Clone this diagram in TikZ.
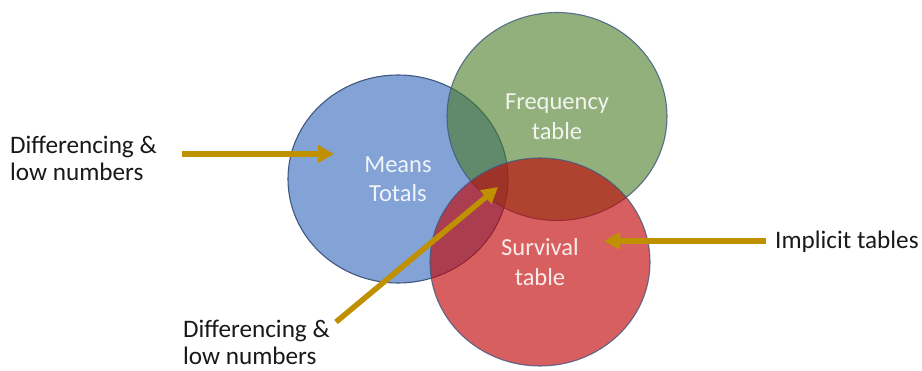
\documentclass[tikz,border=0pt]{standalone}
\usepackage{fontspec}
\setmainfont{Carlito}
\usetikzlibrary{arrows.meta,shapes.geometric}
\definecolor{vblue}{RGB}{131,162,214}
\definecolor{vgreen}{RGB}{73,123,37}
\definecolor{vred}{RGB}{194,5,5}
\definecolor{vedge}{RGB}{62,88,128}
\definecolor{gold}{RGB}{191,144,0}
\begin{document}
\begin{tikzpicture}[x=1pt,y=-1pt,
  venn/.style={ellipse, draw=vedge, line width=1.1pt, minimum width=220pt, minimum height=208pt,
    inner sep=0pt, text=white, text opacity=0.88, font=\fontsize{24.5}{29.5}\selectfont, align=center},
  lbl/.style={font=\fontsize{25.2}{27}\selectfont, align=left, inner sep=0pt, text=black!90},
  goldarrow/.style={draw=gold, line width=5.5pt, -{Triangle[length=16pt,width=17pt]}}]
\useasboundingbox (0,0) rectangle (922,371);
\node[venn, fill=vblue] (means) at (398,179) {Means\\Totals};
\node[venn, fill=vgreen, fill opacity=0.6, draw opacity=0.8] (freq) at (557,116.5) {Frequency\\table};
\node[venn, fill=vred, fill opacity=0.64, draw opacity=0.8] (surv) at (540,262) {Survival\\table};
\node[lbl, anchor=base west] (lefttxt) at (10,180.3) {Differencing \&\\low numbers};
\node[lbl, anchor=base west] (bottxt) at (183,365) {Differencing \&\\low numbers};
\node[lbl, anchor=base west] (righttxt) at (775,249) {Implicit tables};
\coordinate (a1s) at (182,154); \coordinate (a1e) at (334,154);
\coordinate (a2s) at (336,322); \coordinate (a2e) at (498,187);
\coordinate (a3s) at (766,241); \coordinate (a3e) at (604,241);
\draw[goldarrow] (a1s) -- (a1e);
\draw[goldarrow] (a2s) -- (a2e);
\draw[goldarrow] (a3s) -- (a3e);
\end{tikzpicture}
\end{document}
